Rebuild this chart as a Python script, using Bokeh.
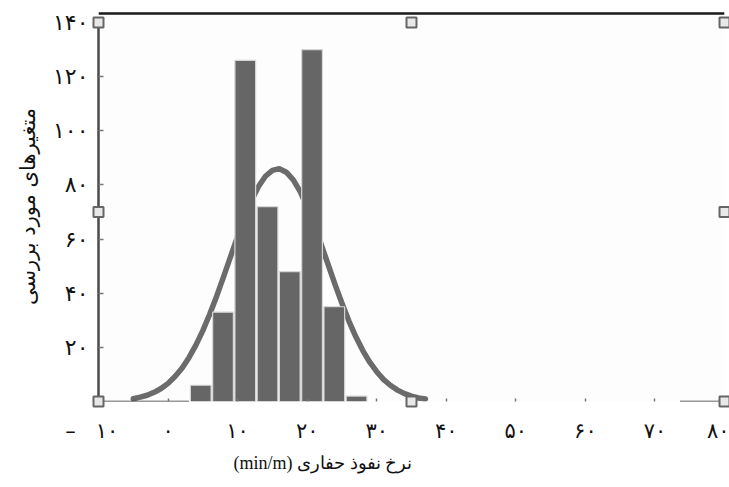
from bokeh.plotting import figure
from bokeh.models import FixedTicker, Span, Range1d, Title
from bokeh.embed import file_html
from bokeh.resources import INLINE

# ---- data ----
bin_left = [3.1, 6.3, 9.5, 12.7, 15.9, 19.1, 22.3, 25.5]
bin_width = 3.2
counts = [6, 33, 126, 72, 48, 130, 35, 2]

curve_x = [-5, -4, -3, -2, -1, 0, 1, 2, 3, 4, 5, 6, 7, 8, 9, 10, 11, 12, 13, 14, 15, 16,
           17, 18, 19, 20, 21, 22, 23, 24, 25, 26, 27, 28, 29, 30, 31, 32, 33, 34, 35, 36, 37]
curve_y = [1.0, 1.6, 2.3, 3.4, 4.8, 6.7, 9.2, 12.3, 16.2, 20.8, 26.2, 32.3, 39.0, 46.2,
           53.6, 61.0, 68.0, 74.2, 79.4, 83.2, 85.4, 86.0, 84.7, 81.9, 77.5, 71.8, 65.3,
           58.1, 50.7, 43.3, 36.3, 29.7, 23.9, 18.8, 14.5, 11.0, 8.1, 5.9, 4.2, 2.9, 2.0,
           1.3, 0.9]

x_ticks = [-10, 0, 10, 20, 30, 40, 50, 60, 70, 80]
x_tick_labels = ["–\u00a0\u00a0\u00a0۱۰\u00a0\u00a0", "۰", "۱۰", "۲۰", "۳۰", "۴۰", "۵۰", "۶۰", "۷۰", "۸۰"]
y_ticks = [20, 40, 60, 80, 100, 120, 140]
y_tick_labels = ["۲۰", "۴۰", "۶۰", "۸۰", "۱۰۰", "۱۲۰", "۱۴۰"]

x_title = "(min/m) نرخ نفوذ حفاری"
y_title = "متغیرهای مورد بررسی"

x_lo, x_hi = -10, 80
y_lo, y_hi = 0, 140
y_top = 144.06

FONT = "DejaVu Sans"
BAR = "#666666"

p = figure(width=729, height=487, output_backend="svg", toolbar_location=None,
           x_range=Range1d(x_lo, x_hi), y_range=Range1d(y_lo, y_top),
           min_border_left=98, min_border_right=5, min_border_top=11, min_border_bottom=86)
p.outline_line_color = None
p.xgrid.grid_line_color = None
p.ygrid.grid_line_color = None
p.background_fill_color = "#fdfdfd"
p.border_fill_color = "white"

# normal curve (behind bars)
p.line(curve_x, curve_y, line_color="#6b6b6b", line_width=5.5, line_cap="round", line_join="round")

# histogram bars
centers = [b + bin_width / 2 for b in bin_left]
p.vbar(x=centers, top=counts, bottom=0, width=bin_width * 0.93,
       fill_color=BAR, line_color="#d6d6d6", line_width=1.2)

# partial baseline pieces
p.segment(x0=[x_lo, 73.6], y0=[0, 0], x1=[bin_left[0] - 0.1, x_hi], y1=[0, 0],
          line_color="#333333", line_width=1.5)

# top black rule
p.add_layout(Span(location=y_hi + 9 / 2.706, dimension="width", line_color="#1a1a1a", line_width=2.5))

# selection handles
xm = (x_lo + x_hi) / 2
ym = (y_lo + y_hi) / 2
hx = [x_lo, xm, x_hi, x_lo, x_hi, x_lo, xm, x_hi]
hy = [y_hi, y_hi, y_hi, ym, ym, y_lo, y_lo, y_lo]
p.scatter(hx, hy, marker="square", size=10, fill_color="#e8e8e8", line_color="#666666",
          line_width=2, level="overlay")

# axes
xa = p.xaxis[0]
xa.ticker = FixedTicker(ticks=x_ticks)
xa.major_label_overrides = dict(zip(x_ticks, x_tick_labels))
xa.axis_line_alpha = 0
xa.major_tick_in = 3
xa.major_tick_out = 0
xa.major_tick_line_color = "#777777"
xa.major_tick_line_width = 1.5
xa.minor_tick_line_color = None
xa.major_label_standoff = 17
xa.major_label_text_font = FONT
xa.major_label_text_font_size = "21px"
xa.major_label_text_color = "#111111"

ya = p.yaxis[0]
ya.ticker = FixedTicker(ticks=y_ticks)
ya.major_label_overrides = dict(zip(y_ticks, y_tick_labels))
ya.bounds = (y_lo, y_hi)
ya.axis_line_color = "#4a4a4a"
ya.axis_line_width = 2.5
ya.major_tick_in = 5
ya.major_tick_out = 0
ya.major_tick_line_color = "#777777"
ya.major_tick_line_width = 1.5
ya.minor_tick_line_color = None
ya.major_label_standoff = 10
ya.major_label_text_font = FONT
ya.major_label_text_font_size = "22px"
ya.major_label_text_color = "#111111"
ya.axis_label = y_title
ya.axis_label_text_font = FONT
ya.axis_label_text_font_size = "21px"
ya.axis_label_text_font_style = "normal"
ya.axis_label_text_color = "#111111"
ya.axis_label_standoff = 10

p.add_layout(Title(text=x_title, align="left", offset=135, standoff=10,
                   text_font="Liberation Serif", text_font_size="18px",
                   text_font_style="normal", text_color="#111111"), "below")

open("out.html", "w").write(file_html(p, INLINE))
